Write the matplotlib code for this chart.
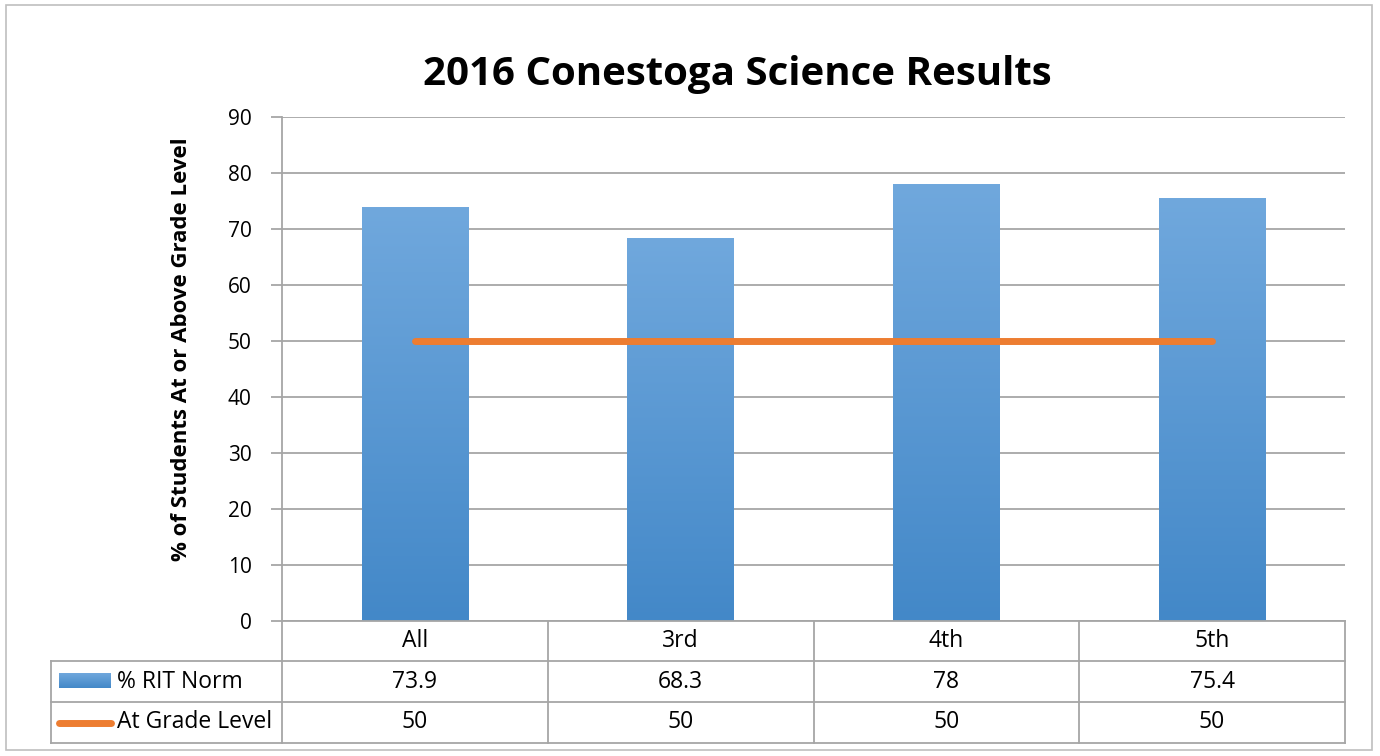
import numpy as np
import matplotlib.pyplot as plt
from matplotlib.colors import LinearSegmentedColormap
from matplotlib.patches import Rectangle
from matplotlib.lines import Line2D
import matplotlib.transforms as mtransforms

plt.rcParams['font.family'] = ['Open Sans', 'DejaVu Sans']

categories = ['All', '3rd', '4th', '5th']
rit_norm = [73.9, 68.3, 78, 75.4]
grade_level = [50, 50, 50, 50]
series_names = ['% RIT Norm', 'At Grade Level']
title = '2016 Conestoga Science Results'
ylabel = '% of Students At or Above Grade Level'

blue_top = '#70a8dd'
blue_bot = '#4388c8'
orange = '#ed7d31'
grid_c = '#a6a6a6'

fig = plt.figure(figsize=(13.8, 7.56), dpi=100)
fig.patches.append(Rectangle((6/1380, 6/756), 1366/1380, 745/756, transform=fig.transFigure,
                             fill=False, ec='#bfbfbf', lw=1.2))
ax = fig.add_axes([282/1380, 1 - 621/756, 1063/1380, 504/756])

x = np.arange(len(categories)) + 0.5
bw = 0.4
cmap = LinearSegmentedColormap.from_list('g', [blue_bot, blue_top])
grad = np.linspace(0, 1, 256).reshape(-1, 1)
for xi, v in zip(x, rit_norm):
    ax.imshow(grad, cmap=cmap, origin='lower', aspect='auto',
              extent=[xi - bw/2, xi + bw/2, 0, v], zorder=2)

ax.plot(x, grade_level, color=orange, lw=5, solid_capstyle='round', zorder=3)

ax.set_xlim(0, 4)
ax.set_ylim(0, 90)
ax.set_yticks(range(0, 91, 10))
ax.set_xticks([])
ax.grid(axis='y', color=grid_c, lw=1.3, zorder=0)
ax.set_axisbelow(True)
for s in ['top', 'right', 'bottom']:
    ax.spines[s].set_visible(False)
ax.spines['left'].set_color(grid_c)
ax.spines['left'].set_linewidth(1.3)
ax.tick_params(axis='y', length=8, width=1.3, color=grid_c, labelsize=15, pad=14)

fig.text(181/1380, 1 - 349/756, ylabel, rotation=90, ha='center', va='center',
         fontsize=16, fontweight='bold')
fig.text(737/1380, 1 - 75/756, title, ha='center', va='center', fontsize=29, fontweight='bold')

# data table below the plot
tr = mtransforms.blended_transform_factory(ax.transData, ax.transAxes)
ta = ax.transAxes
px = 1 / 504
rows_y = [0, -40*px, -81*px, -122*px]
left_x = (51 - 282) / 1063
kw = dict(color=grid_c, lw=1.3, clip_on=False)

# horizontal lines
ax.add_line(Line2D([0, 1], [rows_y[0]] * 2, transform=ta, **kw))
for yy in rows_y[1:]:
    ax.add_line(Line2D([left_x, 1], [yy] * 2, transform=ta, **kw))
# vertical lines
ax.add_line(Line2D([0, 0], [rows_y[0], rows_y[3]], transform=ta, **kw))
ax.add_line(Line2D([left_x, left_x], [rows_y[1], rows_y[3]], transform=ta, **kw))
for i in range(1, len(categories) + 1):
    ax.add_line(Line2D([i, i], [rows_y[0], rows_y[3]], transform=tr, **kw))

fs = 16.5
for i, c in enumerate(categories):
    ymid = (rows_y[0] + rows_y[1]) / 2
    ax.text(x[i], ymid, c, transform=tr, ha='center', va='center', fontsize=fs)
    ax.text(x[i], (rows_y[1] + rows_y[2]) / 2, f'{rit_norm[i]:g}', transform=tr,
            ha='center', va='center', fontsize=fs)
    ax.text(x[i], (rows_y[2] + rows_y[3]) / 2, f'{grade_level[i]:g}', transform=tr,
            ha='center', va='center', fontsize=fs)

# legend keys in table
k0 = (59 - 282) / 1063
k1 = (111 - 282) / 1063
y1 = (rows_y[1] + rows_y[2]) / 2
y2 = (rows_y[2] + rows_y[3]) / 2
ax.imshow(grad, cmap=cmap, origin='lower', aspect='auto', transform=ta,
          extent=[k0, k1, y1 - 7*px, y1 + 8*px], clip_on=False, zorder=3)
ax.add_line(Line2D([(59 - 282) / 1063, (111 - 282) / 1063], [y2, y2], transform=ta,
                   color=orange, lw=5, solid_capstyle='round', clip_on=False))
lx = (117 - 282) / 1063
ax.text(lx, y1, series_names[0], transform=ta, ha='left', va='center', fontsize=fs)
ax.text(lx, y2, series_names[1], transform=ta, ha='left', va='center', fontsize=fs)

ax.set_xlim(0, 4)
ax.set_ylim(0, 90)
fig.savefig('out.png', dpi=100)
